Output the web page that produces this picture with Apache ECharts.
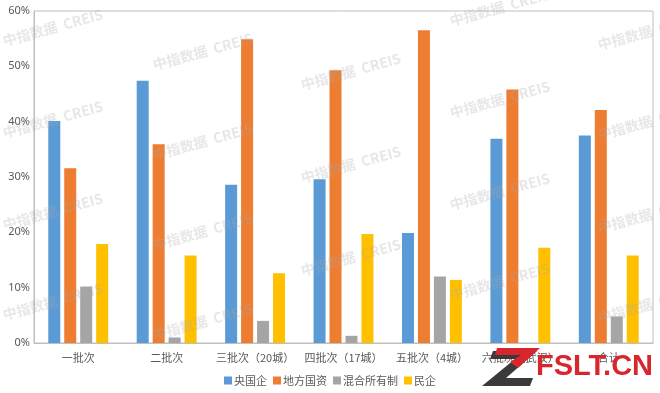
<!DOCTYPE html>
<html><head><meta charset="utf-8">
<script src="https://cdn.jsdelivr.net/npm/echarts@6/dist/echarts.min.js"></script>
<style>html,body{margin:0;padding:0;background:#fff}#c{width:660px;height:393px}</style>
</head><body><div id="c"></div>
<script>
const categories = ['一批次','二批次','三批次（20城）','四批次（17城）','五批次（4城）','六批次（武汉）','合计'];
const seriesNames = ['央国企','地方国资','混合所有制','民企'];
const central = [40.1, 47.4, 28.6, 29.6, 19.9, 36.9, 37.5];
const localState = [31.6, 35.9, 54.9, 49.3, 56.5, 45.8, 42.1];
const mixed = [10.2, 1.0, 4.0, 1.3, 12.0, 0, 4.8];
const privateEnt = [17.9, 15.8, 12.6, 19.7, 11.4, 17.2, 15.8];
const yTicks = [0, 10, 20, 30, 40, 50, 60];
const colors = ['#5B9BD5','#ED7D31','#A5A5A5','#FFC000'];
const allData = [central, localState, mixed, privateEnt];

const wmPos = [[5,48],[5,140],[5,232],[5,322],[155,72],[155,162],[155,252],[155,342],[303,92],[303,185],[303,278],[452,28],[452,120],[452,212],[452,302],[600,52],[600,142],[600,235],[600,325]];
const graphics = wmPos.map(p => ({
  type:'text', x:p[0], y:p[1], rotation:0.27, silent:true, z:100,
  style:{text:'中指数据  CREIS', font:'bold 14px "Noto Sans CJK SC", sans-serif', fill:'rgba(170,170,170,0.28)', textVerticalAlign:'bottom'}
}));
graphics.push({type:'polygon', z:101, shape:{points:[[493,351],[537,351],[506,378],[533,378],[530,386],[482,386],[515,359],[490,359]]}, style:{fill:'#3a3a3a'}});
graphics.push({type:'polygon', z:102, shape:{points:[[497,348],[540,348],[518,368],[510,362],[521,355],[495,355]]}, style:{fill:'#d7262d'}});
graphics.push({type:'text', x:536, y:352, z:101, style:{text:'FSLT.CN', font:'bold 29px "Liberation Sans", sans-serif', fill:'#d7262d'}});

const chart = echarts.init(document.getElementById('c'));
chart.setOption({
  animation:false,
  color: colors,
  grid:{left:34, right:7, top:11, bottom:50, show:true, borderColor:'#bfbfbf', borderWidth:1},
  legend:{bottom:2, left:'center', itemWidth:8, itemHeight:8, itemGap:6,
    icon:'rect', textStyle:{fontSize:11, color:'#595959', fontFamily:'"Noto Sans CJK SC", sans-serif', padding:[0,0,0,-3]},
    data: seriesNames},
  xAxis:{type:'category', data:categories,
    axisLine:{lineStyle:{color:'#bfbfbf'}}, axisTick:{show:false},
    axisLabel:{color:'#595959', fontSize:11, margin:9, interval:0, fontFamily:'"Noto Sans CJK SC", sans-serif'}},
  yAxis:{type:'value', min:0, max:60, interval:10,
    axisLine:{show:true, lineStyle:{color:'#bfbfbf'}}, axisTick:{show:false}, splitLine:{show:false},
    axisLabel:{color:'#595959', fontSize:11, margin:4, formatter: v => v + '%', fontFamily:'"Noto Sans", sans-serif'}},
  graphic: graphics,
  series: seriesNames.map((n,i) => ({
    name:n, type:'bar', data:allData[i], barWidth:12, barGap:'33%',
    itemStyle:{color:colors[i]}
  }))
});
</script></body></html>
